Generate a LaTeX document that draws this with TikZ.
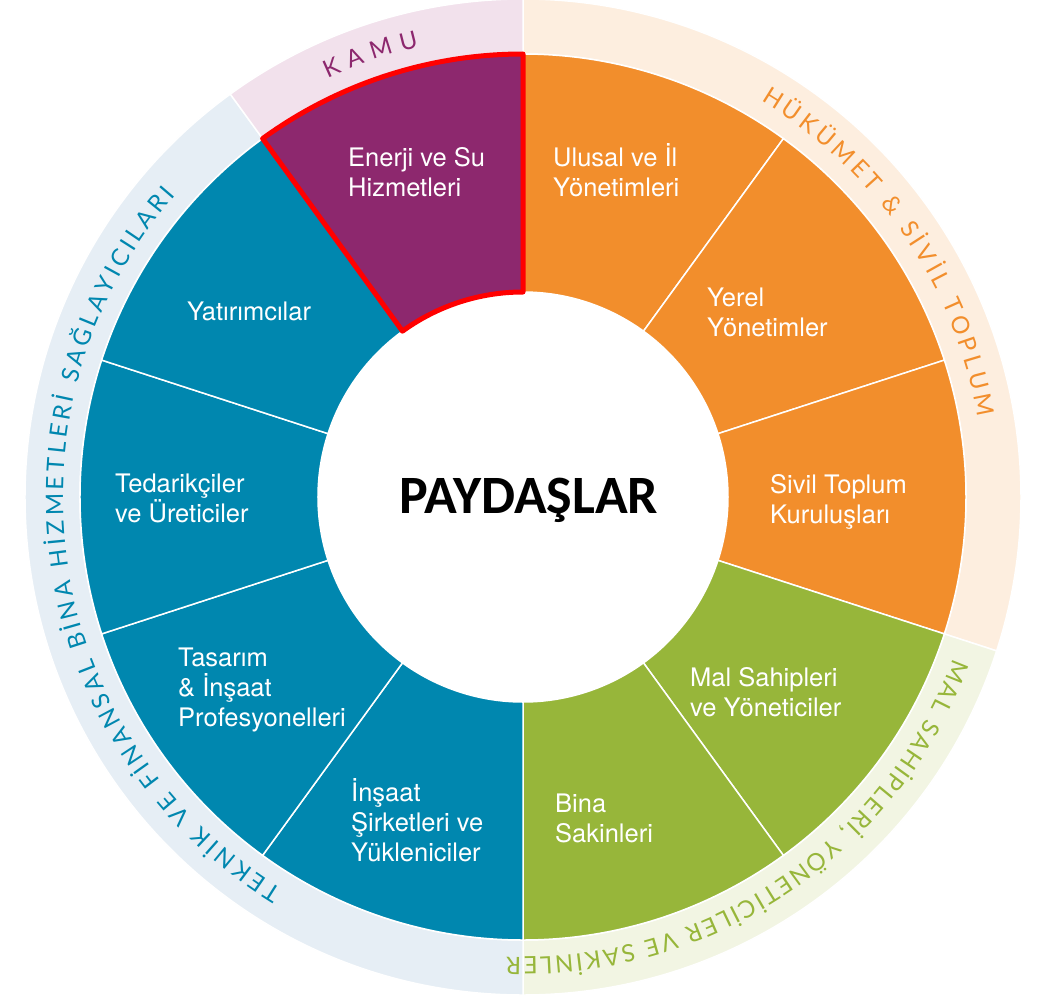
\documentclass[tikz,border=0pt]{standalone}
\usepackage{fontspec}
\setmainfont{TeX Gyre Heros}
\newfontfamily\ringfont{Lato}
\newfontfamily\titlefont{Carlito}
\usetikzlibrary{decorations.text}

\definecolor{kamupurple}{HTML}{8D286E}
\definecolor{govorange}{HTML}{F28E2C}
\definecolor{ownergreen}{HTML}{97B63A}
\definecolor{techblue}{HTML}{0087AF}
\definecolor{kamulight}{HTML}{F2E1EC}
\definecolor{govlight}{HTML}{FDEEDF}
\definecolor{ownerlight}{HTML}{F2F5E3}
\definecolor{techlight}{HTML}{E6EEF5}
\newcommand{\ringsize}{\ringfont\fontsize{24}{24}\selectfont}

\begin{document}
\begin{tikzpicture}[x=1pt, y=1pt,
    sector/.style={draw=white, line width=1.5pt},
    seglabel/.style={text=white, align=left, anchor=west, inner sep=0pt, font=\fontsize{25.5}{30}\selectfont},
    ringtext/.style={decorate, decoration={text along path, text align={fit to path}, text color=#1}}
]
\useasboundingbox (-523,-500) rectangle (523,497);

\foreach \a/\b/\col in {90/-18/govlight, -18/-90/ownerlight, -90/-234/techlight, -234/-270/kamulight}
    \fill[\col, sector] (\a:443pt) -- (\a:498pt) arc[start angle=\a, end angle=\b, radius=498pt] -- (\b:443pt) arc[start angle=\b, end angle=\a, radius=443pt] -- cycle;

\foreach \a/\col in {90/govorange, 54/govorange, 18/govorange, -18/ownergreen, -54/ownergreen, -90/techblue, -126/techblue, -162/techblue, -198/techblue, -234/kamupurple}
    \fill[\col, sector] (\a:205pt) -- (\a:443pt) arc[start angle=\a, end angle=\a-36, radius=443pt] -- (\a-36:205pt) arc[start angle=\a-36, end angle=\a, radius=205pt] -- cycle;

\node[circle, fill=white, minimum size=410pt, inner sep=0pt] (core) at (0,0) {};
\node[anchor=base, font=\titlefont\bfseries\fontsize{54}{60}\selectfont] (title) at (6,-16) {PAYDAŞLAR};

\draw[red, line width=5pt, line join=round] (90:205pt) -- (90:443pt) arc[start angle=90, end angle=126, radius=443pt] -- (126:205pt) arc[start angle=126, end angle=90, radius=205pt] -- cycle;

\node[seglabel] (enerji) at (-175,325) {Enerji ve Su\\Hizmetleri};
\node[seglabel] (ulusal) at (30,327) {Ulusal ve İl\\Yönetimleri};
\node[seglabel] (yerel) at (184,185) {Yerel\\Yönetimler};
\node[seglabel] (sivil) at (247,-5) {Sivil Toplum\\Kuruluşları};
\node[seglabel] (malsahip) at (167,-195) {Mal Sahipleri\\ve Yöneticiler};
\node[seglabel] (sakin) at (32,-321) {Bina\\Sakinleri};
\node[seglabel] (insaat) at (-172,-323) {İnşaat\\Şirketleri ve\\Yükleniciler};
\node[seglabel] (tasarim) at (-345,-193) {Tasarım\\\& İnşaat\\Profesyonelleri};
\node[seglabel] (tedarik) at (-408,-1) {Tedarikçiler\\ve Üreticiler};
\node[seglabel] (yatirim) at (-336,186) {Yatırımcılar};

\path[ringtext=kamupurple, decoration={text={|\ringsize|KAMU}}] (115:462pt) arc[start angle=115, end angle=103, radius=462pt];
\path[ringtext=govorange, decoration={text={|\ringsize|HÜKÜMET {\&} SİVİL TOPLUM}}] (59:462pt) arc[start angle=59, end angle=10, radius=462pt];
\path[ringtext=ownergreen, decoration={text={|\ringsize|MAL SAHİPLERİ, YÖNETİCİLER VE SAKİNLER}}] (-20.5:460pt) arc[start angle=-20.5, end angle=-92, radius=460pt];
\path[ringtext=techblue, decoration={text={|\ringsize|TEKNİK VE FİNANSAL BİNA HİZMETLERİ SAĞLAYICILARI}}] (238.5:460pt) arc[start angle=238.5, end angle=139, radius=460pt];
\end{tikzpicture}
\end{document}
